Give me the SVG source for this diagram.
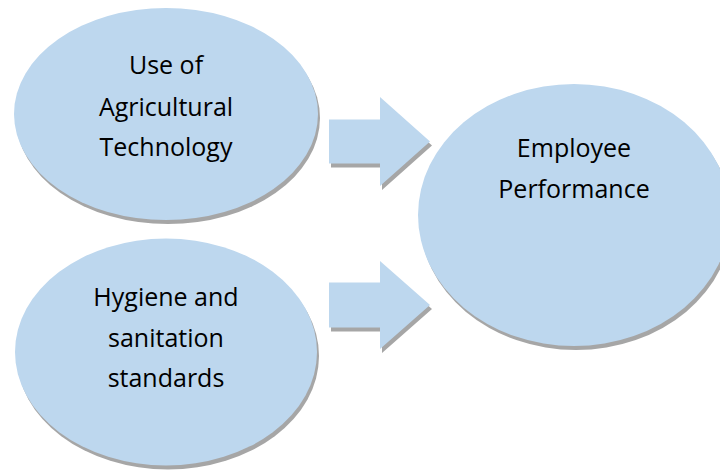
<svg xmlns="http://www.w3.org/2000/svg" width="720" height="472" viewBox="0 0 720 472">
<style>
.fill{fill:#bdd7ee}
.shadow{fill:#a6a6a6}
.lbl{font-family:"Open Sans","Liberation Sans",sans-serif;font-size:25px;fill:#000;text-anchor:middle}
</style>
<rect width="720" height="472" fill="#fff"/>
<g id="node-agri">
<ellipse class="shadow" cx="168" cy="118" rx="152" ry="106"/>
<ellipse class="fill" cx="166" cy="114" rx="152" ry="106"/>
<text class="lbl" x="166" y="74">Use of</text>
<text class="lbl" x="166" y="116">Agricultural</text>
<text class="lbl" x="166" y="156">Technology</text>
</g>
<g id="node-hygiene">
<ellipse class="shadow" cx="168" cy="356" rx="151" ry="113.5"/>
<ellipse class="fill" cx="166" cy="352" rx="151" ry="113.5"/>
<text class="lbl" x="166" y="306">Hygiene and</text>
<text class="lbl" x="166" y="347">sanitation</text>
<text class="lbl" x="166" y="387">standards</text>
</g>
<g id="node-performance">
<ellipse class="shadow" cx="576" cy="219" rx="156" ry="131"/>
<ellipse class="fill" cx="574" cy="215" rx="156" ry="131"/>
<text class="lbl" x="574" y="157">Employee</text>
<text class="lbl" x="574" y="198">Performance</text>
</g>
<g id="connectors">
<polygon class="shadow" transform="translate(2,4)" points="329,119.5 380,119.5 380,97 430,141.5 380,186 380,163.5 329,163.5"/>
<polygon class="fill" points="329,119.5 380,119.5 380,97 430,141.5 380,186 380,163.5 329,163.5"/>
<polygon class="shadow" transform="translate(2,4)" points="329,282.5 380,282.5 380,261 430,305 380,349 380,327.5 329,327.5"/>
<polygon class="fill" points="329,282.5 380,282.5 380,261 430,305 380,349 380,327.5 329,327.5"/>
</g>
</svg>
